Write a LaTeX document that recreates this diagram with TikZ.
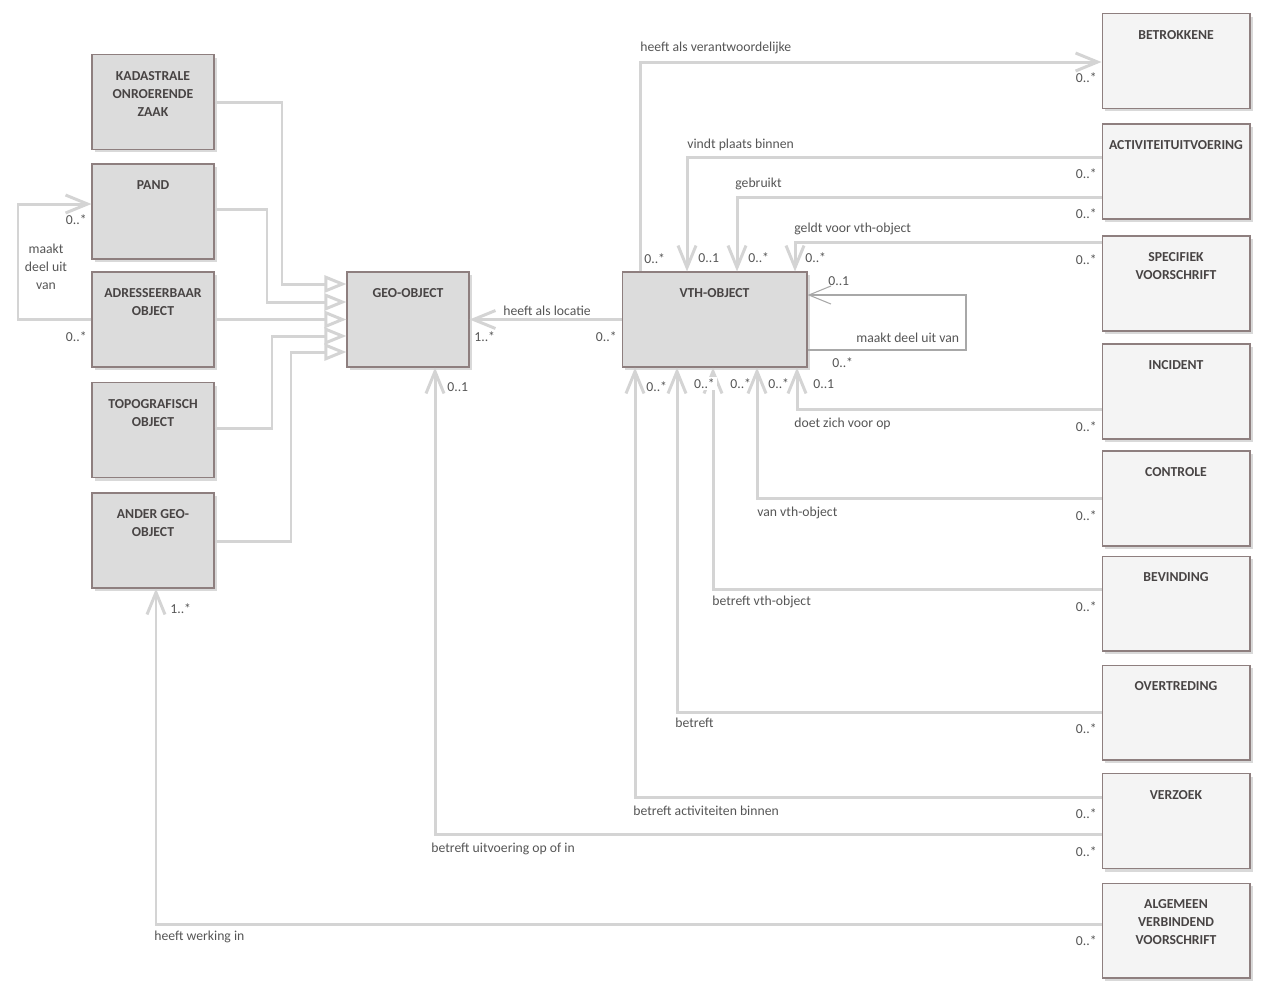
\documentclass[tikz,border=0pt]{standalone}
\usepackage{fontspec}
\setmainfont{Carlito}
\usetikzlibrary{arrows.meta,shadows}
\definecolor{linegray}{HTML}{D4D4D4}
\definecolor{loopgray}{HTML}{A8A8A8}
\definecolor{boxborder}{HTML}{8E7F7F}
\definecolor{leftfill}{HTML}{DCDCDC}
\definecolor{rightfill}{HTML}{F4F4F4}
\definecolor{shadowgray}{HTML}{D9D9D9}
\definecolor{txt}{HTML}{555555}
\definecolor{titletxt}{HTML}{484444}
\begin{document}
\begin{tikzpicture}[x=0.02cm, y=-0.02cm,
    box/.style = {draw=boxborder, line width=0.6pt, minimum height=1.9cm, inner sep=0pt,
        drop shadow={shadow xshift=0.06cm, shadow yshift=-0.06cm, fill=shadowgray, opacity=1}},
    leftbox/.style = {box, fill=leftfill, minimum width=2.44cm},
    rightbox/.style = {box, fill=rightfill, minimum width=2.96cm},
    boxtitle/.style = {anchor=north, yshift=-0.34cm, align=center, inner sep=0pt, text=titletxt,
        font=\fontsize{7.8}{10.2}\selectfont\bfseries},
    lbl/.style = {inner sep=0pt, yshift=-0.035cm, text=txt, font=\fontsize{7.8}{10.2}\selectfont},
    assoc/.style = {draw=linegray, line width=1.7pt, -{Straight Barb[length=0.44cm, width=0.36cm]}},
    gen/.style = {draw=linegray, line width=1.7pt, -{Triangle[open, length=0.44cm, width=0.34cm, fill=white]}}]
    \useasboundingbox (0,0) rectangle (1266,995);

    % left column
    \node[leftbox, label={[boxtitle]north:KADASTRALE\\ONROERENDE\\ZAAK}] (kadaster) at (153,102) {};
    \node[leftbox, label={[boxtitle]north:PAND}] (pand) at (153,211.5) {};
    \node[leftbox, label={[boxtitle]north:ADRESSEERBAAR\\OBJECT}] (adres) at (153,319.5) {};
    \node[leftbox, label={[boxtitle]north:TOPOGRAFISCH\\OBJECT}] (topo) at (153,430) {};
    \node[leftbox, label={[boxtitle]north:ANDER GEO-\\OBJECT}] (ander) at (153,540.5) {};

    % middle
    \node[leftbox, label={[boxtitle]north:GEO-OBJECT}] (geo) at (408,319.5) {};
    \node[leftbox, minimum width=3.7cm, label={[boxtitle]north:VTH-OBJECT}] (vth) at (714.5,319.5) {};

    % right column
    \node[rightbox, label={[boxtitle]north:BETROKKENE}] (betrokkene) at (1176,61) {};
    \node[rightbox, label={[boxtitle]north:ACTIVITEITUITVOERING}] (activiteit) at (1176,171.5) {};
    \node[rightbox, label={[boxtitle]north:SPECIFIEK\\VOORSCHRIFT}] (specifiek) at (1176,283.5) {};
    \node[rightbox, label={[boxtitle]north:INCIDENT}] (incident) at (1176,391.5) {};
    \node[rightbox, label={[boxtitle]north:CONTROLE}] (controle) at (1176,498.5) {};
    \node[rightbox, label={[boxtitle]north:BEVINDING}] (bevinding) at (1176,603.5) {};
    \node[rightbox, label={[boxtitle]north:OVERTREDING}] (overtreding) at (1176,712.5) {};
    \node[rightbox, label={[boxtitle]north:VERZOEK}] (verzoek) at (1176,821) {};
    \node[rightbox, label={[boxtitle]north:ALGEMEEN\\VERBINDEND\\VOORSCHRIFT}] (algemeen) at (1176,930.5) {};

    % generalisations
    \draw[gen] (kadaster.east) -| (282,284) -- (geo.west |- 0,284);
    \draw[gen] (pand.east |- 0,209) -| (267,302) -- (geo.west |- 0,302);
    \draw[gen] (adres.east) -- (geo.west);
    \draw[gen] (topo.east |- 0,428) -| (272,336) -- (geo.west |- 0,336);
    \draw[gen] (ander.east |- 0,541) -| (291,352) -- (geo.west |- 0,352);

    % associations
    \draw[assoc] (adres.west) -| (18,204) -- (pand.west |- 0,204);
    \draw[assoc] (vth.north -| 640,0) |- (betrokkene.west |- 0,62);
    \draw[assoc] (activiteit.west |- 0,157) -| (vth.north -| 687,0);
    \draw[assoc] (activiteit.west |- 0,197) -| (vth.north -| 737,0);
    \draw[assoc] (specifiek.west |- 0,242) -| (vth.north -| 795,0);
    \draw[assoc, draw=loopgray, line width=0.6pt] (vth.east |- 0,350) -| (966,295) -- (vth.east |- 0,295);
    \draw[assoc] (vth.west) -- (geo.east);
    \draw[assoc] (incident.west |- 0,409) -| (vth.south -| 797,0);
    \draw[assoc] (controle.west |- 0,498) -| (vth.south -| 757,0);
    \draw[assoc] (bevinding.west |- 0,589) -| (vth.south -| 713,0);
    \draw[assoc] (overtreding.west |- 0,712) -| (vth.south -| 677,0);
    \draw[assoc] (verzoek.west |- 0,797) -| (vth.south -| 635,0);
    \draw[assoc] (verzoek.west |- 0,834) -| (geo.south -| 435,0);
    \draw[assoc] (algemeen.west |- 0,924) -| (ander.south -| 156,0);

    % role names
    \node[lbl, align=center] (l1) at (46,265) {maakt\\deel uit\\van};
    \node[lbl, anchor=west] (l2) at (640,46) {heeft als verantwoordelijke};
    \node[lbl, anchor=west] (l3) at (687,143) {vindt plaats binnen};
    \node[lbl, anchor=west] (l4) at (735,182) {gebruikt};
    \node[lbl, anchor=west] (l5) at (794,227) {geldt voor vth-object};
    \node[lbl, anchor=west] (l6) at (856,336) {maakt deel uit van};
    \node[lbl, anchor=west] (l7) at (503,309) {heeft als locatie};
    \node[lbl, anchor=west] (l8) at (794,422) {doet zich voor op};
    \node[lbl, anchor=west] (l9) at (757,511) {van vth-object};
    \node[lbl, anchor=west] (l10) at (712,600) {betreft vth-object};
    \node[lbl, anchor=west] (l11) at (675,721) {betreft};
    \node[lbl, anchor=west] (l12) at (633,809) {betreft activiteiten binnen};
    \node[lbl, anchor=west] (l13) at (431,847) {betreft uitvoering op of in};
    \node[lbl, anchor=west] (l14) at (154,935) {heeft werking in};

    % multiplicities
    \node[lbl, anchor=east] (m1) at (87,218) {0..*};
    \node[lbl, anchor=east] (m2) at (87,335) {0..*};
    \node[lbl, anchor=west] (m3) at (170,607) {1..*};
    \node[lbl, anchor=west] (m4) at (474,335) {1..*};
    \node[lbl, anchor=east] (m5) at (617,335) {0..*};
    \node[lbl, anchor=west] (m6) at (447,385) {0..1};
    \node[lbl, anchor=west] (m7) at (644,257) {0..*};
    \node[lbl, anchor=west] (m8) at (698,256) {0..1};
    \node[lbl, anchor=west] (m9) at (748,256) {0..*};
    \node[lbl, anchor=west] (m10) at (805,256) {0..*};
    \node[lbl, anchor=west] (m11) at (828,279) {0..1};
    \node[lbl, anchor=west] (m12) at (832,361) {0..*};
    \node[lbl, anchor=west] (m13) at (646,385) {0..*};
    \node[lbl, anchor=west, fill=white, inner sep=1pt] (m14) at (692,382) {0..*};
    \node[lbl, anchor=west] (m15) at (730,382) {0..*};
    \node[lbl, anchor=west] (m16) at (768,382) {0..*};
    \node[lbl, anchor=west] (m17) at (813,382) {0..1};
    \node[lbl, anchor=east] (m18) at (1097,76) {0..*};
    \node[lbl, anchor=east] (m19) at (1097,172) {0..*};
    \node[lbl, anchor=east] (m20) at (1097,212) {0..*};
    \node[lbl, anchor=east] (m21) at (1097,258) {0..*};
    \node[lbl, anchor=east] (m22) at (1097,425) {0..*};
    \node[lbl, anchor=east] (m23) at (1097,514) {0..*};
    \node[lbl, anchor=east] (m24) at (1097,605) {0..*};
    \node[lbl, anchor=east] (m25) at (1097,727) {0..*};
    \node[lbl, anchor=east] (m26) at (1097,812) {0..*};
    \node[lbl, anchor=east] (m27) at (1097,850) {0..*};
    \node[lbl, anchor=east] (m28) at (1097,939) {0..*};
\end{tikzpicture}
\end{document}
